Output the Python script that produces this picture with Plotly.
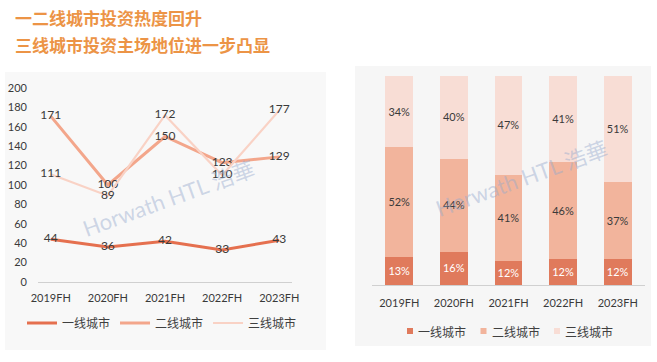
import plotly.graph_objects as go

categories = ["2019FH", "2020FH", "2021FH", "2022FH", "2023FH"]
tier1 = [44, 36, 42, 33, 43]
tier2 = [171, 100, 150, 123, 129]
tier3 = [111, 89, 172, 110, 177]
series_names = ["一线城市", "二线城市", "三线城市"]
y_ticks = [0, 20, 40, 60, 80, 100, 120, 140, 160, 180, 200]
title_lines = ["一二线城市投资热度回升", "三线城市投资主场地位进一步凸显"]

line_colors = ["#E5704F", "#F3A68B", "#F9D2C5"]
bar_colors = ["#E07A5C", "#F2B49C", "#F8DDD5"]
txt = "#3a3a3a"
font_lat = "Lato, 'Noto Sans CJK SC', sans-serif"
font_cjk = "'Noto Sans CJK SC', sans-serif"

W, H = 657, 362
def px(x):
    return x / W
def py(y):
    return 1 - y / H

totals = [a + b + c for a, b, c in zip(tier1, tier2, tier3)]
shares = [[v / t * 100 for v, t in zip(s, totals)] for s in (tier1, tier2, tier3)]

fig = go.Figure()

# background panels
fig.add_shape(type="rect", xref="paper", yref="paper", x0=px(5), x1=px(326),
              y0=py(350), y1=py(72), fillcolor="#f8f8f8", line_width=0, layer="below")
fig.add_shape(type="rect", xref="paper", yref="paper", x0=px(355), x1=px(651),
              y0=py(346), y1=py(66), fillcolor="#f6f6f6", line_width=0, layer="below")

widths = [3, 3, 2.2]
for name, vals, col, w in zip(series_names, [tier1, tier2, tier3], line_colors, widths):
    fig.add_trace(go.Scatter(
        x=categories, y=vals, name=name, mode="lines+text",
        line=dict(color=col, width=w),
        text=[str(v) for v in vals], textposition="middle center",
        textfont=dict(family=font_lat, size=12, color=txt),
        xaxis="x", yaxis="y", legend="legend", cliponaxis=False))

for i, (name, sh, col) in enumerate(zip(series_names, shares, bar_colors)):
    fig.add_trace(go.Bar(
        x=categories, y=sh, name=name, marker=dict(color=col, line_width=0),
        text=[f"{round(v)}%" for v in sh], textposition="inside",
        insidetextanchor="middle", textangle=0, showlegend=False,
        textfont=dict(family=font_lat, size=12, color="#ffffff" if i == 0 else txt),
        xaxis="x2", yaxis="y2", hoverinfo="skip"))

# manual legend for the stacked bars
for k, (name, col) in enumerate(zip(series_names, bar_colors)):
    x0 = 407 + k * 73.5
    fig.add_shape(type="rect", xref="paper", yref="paper", x0=px(x0), x1=px(x0 + 6),
                  y0=py(334), y1=py(328), fillcolor=col, line_width=0)
    fig.add_annotation(text=name, xref="paper", yref="paper", x=px(x0 + 9), y=py(331),
                       xanchor="left", yanchor="middle", showarrow=False,
                       font=dict(family=font_cjk, size=12, color="#404040"))

for k, line in enumerate(title_lines):
    fig.add_annotation(text=f"<b>{line}</b>", xref="paper", yref="paper",
                       x=px(13), y=py(18 + k * 26), xanchor="left", yanchor="middle",
                       showarrow=False, font=dict(family=font_cjk, size=17, color="#EC9446"))

# watermarks
for cx, cy in [(168, 198), (521, 178)]:
    fig.add_annotation(text="Horwath HTL 浩華", xref="paper", yref="paper",
                       x=px(cx), y=py(cy), xanchor="center", yanchor="middle",
                       showarrow=False, textangle=-20,
                       font=dict(family="Lato, 'Noto Sans CJK SC'", size=22,
                                 color="rgba(150,170,205,0.45)"))

fig.update_layout(
    width=W, height=H, margin=dict(l=0, r=0, t=0, b=0, autoexpand=False),
    paper_bgcolor="white", plot_bgcolor="rgba(0,0,0,0)",
    barmode="stack", bargap=0.49, showlegend=True,
    xaxis=dict(domain=[px(38), px(292)], showline=True, linecolor="#d0d0d0", linewidth=1,
               ticks="", showgrid=False, automargin=False, ticklabelstandoff=6,
               tickfont=dict(family=font_lat, size=11, color=txt), fixedrange=True),
    yaxis=dict(domain=[py(282), py(88)], range=[0, 200], tickvals=y_ticks,
               showgrid=False, zeroline=False, showline=False, ticks="", automargin=False,
               tickfont=dict(family=font_lat, size=11, color=txt), ticklabelstandoff=10),
    xaxis2=dict(domain=[px(372), px(645)], anchor="y2", showline=True, linecolor="#d0d0d0",
                linewidth=1, ticks="", showgrid=False, automargin=False, ticklabelstandoff=8,
                tickfont=dict(family=font_lat, size=11, color=txt)),
    yaxis2=dict(domain=[py(285), py(76)], anchor="x2", range=[0, 100], visible=False,
                automargin=False),
    legend=dict(orientation="h", x=px(22), y=py(323), xanchor="left", yanchor="middle",
                font=dict(family=font_cjk, size=12, color="#404040"), bgcolor="rgba(0,0,0,0)",
                itemwidth=30, traceorder="normal"),
)

fig.write_html("out.html", config={"displayModeBar": False},
               post_script="document.body.style.margin='0';document.body.style.overflow='hidden';")
